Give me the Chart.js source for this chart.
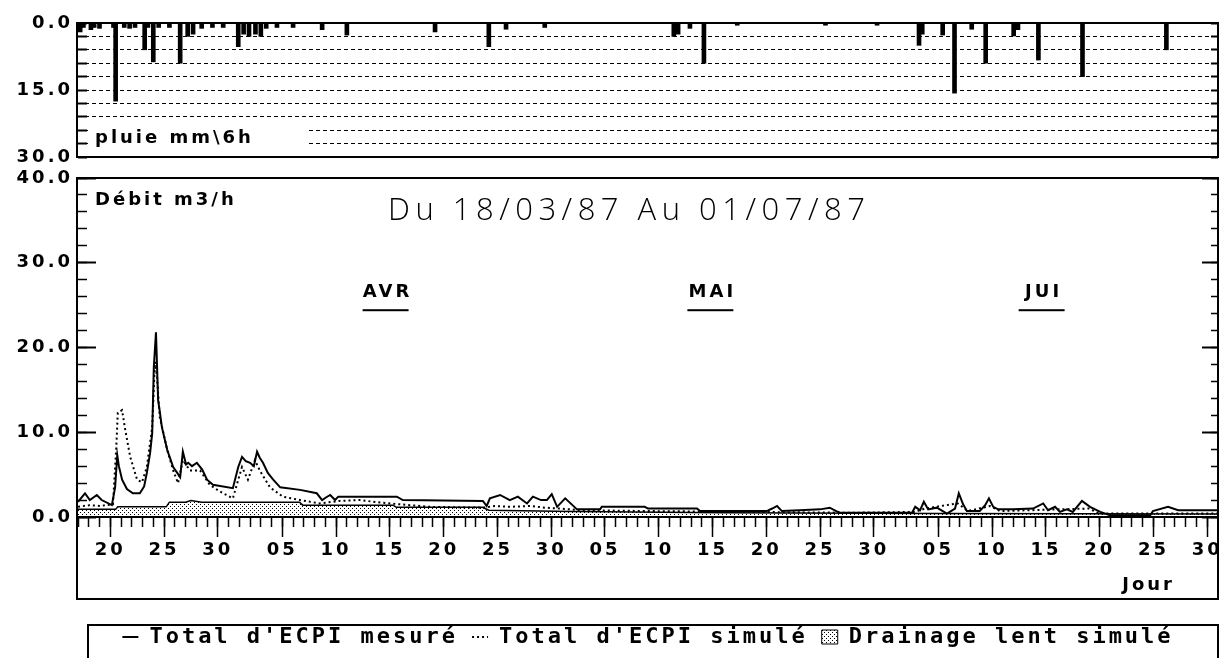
<!DOCTYPE html>
<html lang="fr">
<head>
<meta charset="utf-8">
<title>Débit ECPI 1987</title>
<script src="https://cdn.jsdelivr.net/npm/chart.js@4.4.1/dist/chart.umd.min.js"></script>
<style>
  html, body { margin: 0; padding: 0; background: #fff; overflow: hidden; }
  #pluie { position: absolute; left: 0; top: -12px; }
  #debit { position: absolute; left: 0; top: 140px; }
</style>
</head>
<body>
<canvas id="pluie" width="1260" height="212"></canvas>
<canvas id="debit" width="1260" height="518"></canvas>
<script>
// Axe des jours : 0 = 17/03/87, 106 = 01/07/87
const JOUR_MIN = 0;
const JOUR_MAX = 106;

const joursGrad = [3, 8, 13, 19, 24, 29, 34, 39, 44, 49, 54, 59, 64, 69, 74, 80, 85, 90, 95, 100, 105];
const etiquettesJours = ['20', '25', '30', '05', '10', '15', '20', '25', '30', '05', '10', '15', '20', '25', '30', '05', '10', '15', '20', '25', '30'];

const moisNoms = ['AVR', 'MAI', 'JUI'];
const moisJours = [28.6, 58.8, 89.6];

const pluieGrad = [0, 15, 30];
const debitGrad = [0, 10, 20, 30, 40];

// pluie en mm par pas de 6 h
const pluieJours = [0.2, 0.5, 1.2, 1.5, 2.0, 3.3, 3.5, 4.3, 4.8, 5.3, 6.2, 6.5, 7.0, 7.5, 8.5, 9.5, 10.2, 10.7, 11.5, 12.5,
  13.5, 14.9, 15.4, 15.9, 16.5, 17.0, 17.5, 18.5, 20.0, 22.7, 25.0, 33.2, 38.2, 39.8, 43.4, 55.4, 55.8, 56.9, 58.2, 61.3,
  69.5, 74.3, 78.2, 78.5, 80.4, 81.5, 83.1, 84.4, 87.0, 87.4, 89.3, 93.4, 101.2];
const pluieMm = [2.0, 1.0, 1.5, 1.0, 1.2, 1.0, 17.5, 1.0, 1.2, 1.0, 6.0, 1.0, 8.7, 1.0, 1.0, 9.0, 3.0, 2.5, 1.2, 1.0,
  1.0, 5.3, 2.5, 3.0, 2.5, 3.0, 1.2, 1.0, 1.0, 1.5, 2.7, 2.0, 5.3, 1.4, 1.0, 3.0, 2.5, 1.2, 9.0, 0.5,
  0.5, 0.5, 5.0, 2.5, 2.7, 15.7, 1.4, 9.0, 2.9, 1.5, 8.3, 12.0, 6.0];

// débit total mesuré (m3/h)
const mesJours = [0, 0.65, 1.1, 1.75, 2.2, 3.15, 3.45, 3.65, 3.8, 4.1, 4.55, 5.1, 5.75, 6.15, 6.4, 6.7, 6.9, 7.05, 7.25, 7.45,
  7.6, 7.8, 8.3, 8.85, 9.5, 9.75, 10.05, 10.25, 10.6, 11.05, 11.55, 12.0, 12.55, 14.4, 14.9, 15.25, 15.6, 16.0, 16.35, 16.65,
  16.9, 17.2, 17.65, 18.15, 18.8, 20.65, 22.2, 22.7, 23.05, 23.45, 23.9, 24.2, 29.65, 30.2, 37.65, 38.0, 38.3, 39.25, 40.15, 40.9,
  41.75, 42.3, 43.05, 43.6, 44.05, 44.55, 45.3, 46.4, 48.55, 48.7, 52.7, 53.0, 57.55, 57.85, 64.05, 64.55, 65.0, 65.45, 67.1, 69.0,
  69.9, 70.5, 70.85, 77.55, 77.85, 78.3, 78.65, 79.05, 79.85, 80.8, 81.55, 81.9, 82.3, 82.65, 83.85, 84.35, 84.7, 85.1, 85.55, 86.95,
  88.8, 89.75, 90.2, 90.85, 91.3, 91.95, 92.5, 93.35, 94.1, 95.05, 95.95, 99.7, 99.95, 101.35, 102.3, 106];
const mesDebit = [1.8, 2.8, 2.0, 2.6, 2.0, 1.4, 3.5, 7.3, 6.0, 4.4, 3.3, 2.8, 2.8, 3.6, 5.2, 7.5, 9.9, 17.7, 21.8, 13.8,
  12.5, 10.6, 7.9, 5.9, 4.7, 7.7, 6.2, 6.4, 6.0, 6.4, 5.6, 4.4, 3.8, 3.4, 5.9, 7.1, 6.6, 6.4, 6.0, 7.7,
  7.0, 6.4, 5.2, 4.4, 3.5, 3.2, 2.8, 2.0, 2.3, 2.6, 2.0, 2.4, 2.4, 2.0, 1.9, 1.3, 2.2, 2.6, 2.0, 2.4,
  1.6, 2.4, 2.0, 2.0, 2.7, 1.2, 2.2, 0.9, 0.9, 1.2, 1.2, 1.0, 1.0, 0.7, 0.7, 1.0, 1.3, 0.7, 0.8, 0.9,
  1.1, 0.7, 0.5, 0.5, 1.2, 0.8, 1.8, 0.9, 1.1, 0.4, 1.0, 2.8, 1.5, 0.7, 0.7, 1.4, 2.2, 1.2, 0.9, 0.9,
  1.0, 1.6, 0.8, 1.2, 0.6, 0.9, 0.6, 1.9, 1.2, 0.6, 0.2, 0.2, 0.7, 1.2, 0.8, 0.8];

// débit total simulé (m3/h)
const simJours = [0, 1.1, 2.05, 3.25, 3.55, 3.7, 4.1, 4.35, 4.85, 5.5, 5.95, 6.4, 6.9, 7.15, 7.35, 7.6, 8.3, 8.85, 9.3, 9.75,
  10.4, 11.35, 12.25, 13.2, 14.4, 14.9, 15.25, 15.8, 16.45, 16.9, 17.85, 19.05, 20.65, 22.5, 24.35, 26.2, 28.1, 29.95, 32.75, 37.65,
  38.75, 40.15, 42.05, 43.4, 44.8, 46.7, 53.2, 62.5, 71.8, 77.85, 78.75, 81.8, 82.75, 84.8, 85.75, 94.0, 95.0, 106];
const simDebit = [1.2, 1.4, 1.3, 1.5, 8.0, 12.3, 12.6, 10.6, 7.1, 4.4, 4.1, 5.9, 10.6, 18.3, 16.5, 11.8, 7.9, 5.5, 4.0, 6.7,
  5.5, 5.5, 3.8, 3.0, 2.2, 4.4, 5.9, 4.4, 6.7, 5.5, 3.5, 2.4, 2.0, 1.6, 1.9, 2.0, 1.7, 1.5, 1.2, 1.1,
  1.3, 1.2, 1.3, 1.1, 1.0, 0.8, 0.7, 0.6, 0.5, 0.6, 1.0, 1.6, 0.7, 1.3, 0.7, 1.0, 0.4, 0.4];

// drainage lent simulé (m3/h)
const drainJours = [0, 3.5, 3.7, 8.2, 8.5, 10.0, 10.5, 11.5, 20.6, 20.9, 29.3, 29.6, 37.6, 38.2, 46, 60, 80, 106];
const drainDebit = [0.9, 0.9, 1.2, 1.2, 1.75, 1.75, 1.95, 1.75, 1.75, 1.4, 1.4, 1.15, 1.15, 0.8, 0.65, 0.5, 0.4, 0.35];

const policeAxe = { family: '"DejaVu Sans", sans-serif', size: 18, weight: 'bold' };
const POLICE_TEXTE = 'bold 18px "DejaVu Sans", sans-serif';
const ESPACE = '3px';

const points = (xs, ys) => xs.map((v, i) => ({ x: v, y: ys[i] }));
const graduations = vals => s => { s.ticks = vals.map(v => ({ value: v })); };
const pas = (max, step) => { const t = []; for (let v = 0; v <= max; v += step) t.push(v); return t; };

// trame pointillée du drainage lent
function trame() {
  const c = document.createElement('canvas');
  c.width = 4; c.height = 4;
  const g = c.getContext('2d');
  g.fillStyle = '#000';
  g.fillRect(0, 0, 1, 1);
  g.fillRect(2, 2, 1, 1);
  return g.createPattern(c, 'repeat');
}
const motif = trame();

const espacement = {
  id: 'espacement',
  beforeLayout(chart) { chart.ctx.letterSpacing = ESPACE; },
  beforeDraw(chart) { chart.ctx.letterSpacing = ESPACE; }
};

const habillagePluie = {
  id: 'habillagePluie',
  beforeDatasetsDraw(chart) {
    const { ctx, chartArea: a } = chart;
    ctx.save();
    ctx.fillStyle = '#fff';
    ctx.fillRect(a.left + 10, a.bottom - 33, 220, 32);
    ctx.fillStyle = '#000';
    ctx.font = POLICE_TEXTE;
    ctx.letterSpacing = ESPACE;
    ctx.textAlign = 'left';
    ctx.textBaseline = 'alphabetic';
    ctx.fillText('pluie mm\\6h', a.left + 17, a.bottom - 14);
    ctx.restore();
  },
  afterDraw(chart) {
    const { ctx, chartArea: a } = chart;
    ctx.save();
    ctx.strokeStyle = '#000';
    ctx.lineWidth = 2;
    ctx.strokeRect(a.left - 1, a.top, a.right - a.left + 1, a.bottom - a.top);
    ctx.restore();
  }
};

const habillageDebit = {
  id: 'habillageDebit',
  afterDraw(chart) {
    const { ctx, chartArea: a, scales: { x, y } } = chart;
    const bas = a.bottom + 82;
    ctx.save();
    ctx.strokeStyle = '#000';
    ctx.lineWidth = 2;
    ctx.strokeRect(a.left - 1, a.top, a.right - a.left + 1, bas - a.top);

    // cadre de la légende
    const lg = chart.legend;
    ctx.beginPath();
    ctx.moveTo(88, chart.height + 2);
    ctx.lineTo(88, lg.top + 13);
    ctx.lineTo(a.right, lg.top + 13);
    ctx.lineTo(a.right, chart.height + 2);
    ctx.stroke();

    ctx.fillStyle = '#000';
    ctx.font = POLICE_TEXTE;
    ctx.letterSpacing = ESPACE;
    ctx.textBaseline = 'alphabetic';
    ctx.textAlign = 'left';
    ctx.fillText('Débit m3/h', a.left + 17, a.top + 27);
    ctx.textAlign = 'right';
    ctx.fillText('Jour', a.right - 43, bas - 9);

    ctx.textAlign = 'center';
    moisNoms.forEach((m, i) => {
      const px = x.getPixelForValue(moisJours[i]);
      ctx.fillText(m, px + 2, y.getPixelForValue(25.95));
      ctx.fillRect(px - 23, y.getPixelForValue(24.4) - 1, 46, 2);
    });

    ctx.font = '300 31px "Open Sans", "DejaVu Sans", sans-serif';
    ctx.letterSpacing = '5.5px';
    ctx.textAlign = 'left';
    ctx.fillText('Du 18/03/87 Au 01/07/87', a.left + 310, a.top + 42);
    ctx.restore();
  }
};

new Chart(document.getElementById('pluie'), {
  type: 'bar',
  data: {
    datasets: [{
      data: points(pluieJours, pluieMm),
      backgroundColor: '#000',
      barThickness: 4
    }]
  },
  options: {
    responsive: false,
    animation: false,
    layout: { padding: { top: 35, right: 42, bottom: 43, left: 0 } },
    plugins: { legend: { display: false }, tooltip: { enabled: false } },
    scales: {
      x: { type: 'linear', min: JOUR_MIN, max: JOUR_MAX, offset: false, display: false },
      y: {
        reverse: true, min: 0, max: 30,
        afterBuildTicks: graduations(pas(30, 3)),
        afterFit: s => { s.width = 78; },
        grid: { color: '#000', lineWidth: 1, tickLength: -9, tickWidth: 2, tickBorderDash: [] },
        border: { display: false, dash: [4, 3] },
        ticks: {
          autoSkip: false, padding: 14, color: '#000', font: policeAxe,
          callback: v => pluieGrad.includes(v) ? v.toFixed(1) : ''
        }
      },
      yDroite: {
        axis: 'y', position: { x: JOUR_MAX }, reverse: true, min: 0, max: 30,
        afterBuildTicks: graduations(pas(30, 3)),
        grid: { drawOnChartArea: false, color: '#000', tickLength: 7, tickWidth: 2 },
        border: { display: false },
        ticks: { display: false }
      }
    }
  },
  plugins: [espacement, habillagePluie]
});

new Chart(document.getElementById('debit'), {
  type: 'line',
  data: {
    datasets: [
      {
        label: "Total d'ECPI mesuré",
        data: points(mesJours, mesDebit),
        borderColor: '#000', borderWidth: 2, pointRadius: 0, fill: false,
        xAxisID: 'x', yAxisID: 'y'
      },
      {
        label: "Total d'ECPI simulé",
        data: points(simJours, simDebit),
        borderColor: '#000', borderWidth: 2, borderDash: [2, 3], pointRadius: 0, fill: false,
        xAxisID: 'x', yAxisID: 'y'
      },
      {
        label: 'Drainage lent simulé',
        data: points(drainJours, drainDebit),
        borderColor: '#000', borderWidth: 1.5, backgroundColor: motif, pointRadius: 0, fill: 'origin',
        xAxisID: 'x', yAxisID: 'y'
      }
    ]
  },
  options: {
    responsive: false,
    animation: false,
    layout: { padding: { top: 38, right: 42, bottom: 0, left: 0 } },
    plugins: {
      tooltip: { enabled: false },
      legend: {
        position: 'bottom',
        fullSize: false,
        labels: {
          usePointStyle: true,
          pointStyleWidth: 16,
          boxHeight: 14,
          padding: 14,
          color: '#000',
          font: { family: '"DejaVu Sans Mono", monospace', size: 22, weight: 'bold' },
          generateLabels: chart => chart.data.datasets.map((ds, i) => ({
            text: ds.label,
            datasetIndex: i,
            pointStyle: i === 2 ? 'rect' : 'line',
            fillStyle: i === 2 ? motif : '#000',
            strokeStyle: '#000',
            lineWidth: i === 2 ? 1 : 2,
            lineDash: ds.borderDash || [],
            fontColor: '#000',
            hidden: false
          }))
        }
      }
    },
    scales: {
      x: {
        type: 'linear', min: JOUR_MIN, max: JOUR_MAX, offset: false,
        afterBuildTicks: graduations(joursGrad),
        afterFit: s => { s.height = 95; },
        grid: { drawOnChartArea: false, color: '#000', tickLength: 20, tickWidth: 1.5 },
        border: { color: '#000', width: 2 },
        ticks: {
          autoSkip: false, maxRotation: 0, padding: 3, color: '#000', font: policeAxe,
          callback: (v, i) => etiquettesJours[i]
        }
      },
      xJour: {
        axis: 'x', type: 'linear', position: { y: 0 }, min: JOUR_MIN, max: JOUR_MAX, offset: false,
        afterBuildTicks: graduations(pas(JOUR_MAX, 1)),
        grid: { drawOnChartArea: false, color: '#000', tickLength: 10, tickWidth: 1.5 },
        border: { display: false },
        ticks: { display: false }
      },
      y: {
        min: 0, max: 40,
        afterBuildTicks: graduations(debitGrad),
        afterFit: s => { s.width = 78; },
        grid: { drawOnChartArea: false, color: '#000', tickLength: -18, tickWidth: 2 },
        border: { display: false },
        ticks: { autoSkip: false, padding: 23, color: '#000', font: policeAxe, callback: v => v.toFixed(1) }
      },
      yPas: {
        axis: 'y', position: { x: JOUR_MIN }, min: 0, max: 40,
        afterBuildTicks: graduations(pas(40, 2)),
        grid: { drawOnChartArea: false, color: '#000', tickLength: -9, tickWidth: 1.5 },
        border: { display: false },
        ticks: { display: false }
      },
      yDroite: {
        axis: 'y', position: { x: JOUR_MAX }, min: 0, max: 40,
        afterBuildTicks: graduations(debitGrad),
        grid: { drawOnChartArea: false, color: '#000', tickLength: 16, tickWidth: 2 },
        border: { display: false },
        ticks: { display: false }
      },
      yDroitePas: {
        axis: 'y', position: { x: JOUR_MAX }, min: 0, max: 40,
        afterBuildTicks: graduations(pas(40, 2)),
        grid: { drawOnChartArea: false, color: '#000', tickLength: 7, tickWidth: 1.5 },
        border: { display: false },
        ticks: { display: false }
      }
    }
  },
  plugins: [espacement, habillageDebit]
});
</script>
</body>
</html>
